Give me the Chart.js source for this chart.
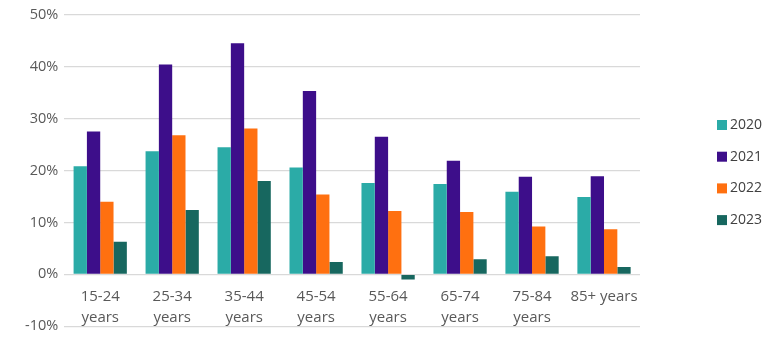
<!DOCTYPE html>
<html>
<head>
<meta charset="utf-8">
<script src="https://cdn.jsdelivr.net/npm/chart.js@4"></script>
<style>
  html, body { margin: 0; padding: 0; background: #fff; }
  #wrap { width: 772px; height: 341px; position: relative; }
</style>
</head>
<body>
<div id="wrap"><canvas id="ageChart"></canvas></div>
<script>
// === DATA ===
const categories = [
  ['15-24', 'years'], ['25-34', 'years'], ['35-44', 'years'], ['45-54', 'years'],
  ['55-64', 'years'], ['65-74', 'years'], ['75-84', 'years'], '85+ years'
];
const seriesNames = ['2020', '2021', '2022', '2023'];
const values2020 = [20.8, 23.7, 24.5, 20.6, 17.6, 17.4, 15.9, 14.9];
const values2021 = [27.5, 40.4, 44.5, 35.3, 26.5, 21.9, 18.8, 18.9];
const values2022 = [14.0, 26.8, 28.1, 15.4, 12.2, 12.0, 9.2, 8.7];
const values2023 = [6.3, 12.4, 18.0, 2.4, -1.0, 2.9, 3.5, 1.4];
const yTicks = [-10, 0, 10, 20, 30, 40, 50];

const colors = ['#2BABA7', '#3D0E8A', '#FF7010', '#17675F'];
const allValues = [values2020, values2021, values2022, values2023];

// simple legend drawn at the right, like the original
const sideLegend = {
  id: 'sideLegend',
  afterDraw(chart) {
    const ctx = chart.ctx;
    ctx.save();
    ctx.font = '14px "Open Sans", sans-serif';
    ctx.textBaseline = 'middle';
    seriesNames.forEach(function(name, i) {
      const y = 125 + i * 31.7;
      ctx.fillStyle = colors[i];
      ctx.fillRect(717, y - 5, 10, 10);
      ctx.fillStyle = '#404040';
      ctx.fillText(name, 730, y);
    });
    ctx.restore();
  }
};

const ctx = document.getElementById('ageChart').getContext('2d');
new Chart(ctx, {
  type: 'bar',
  data: {
    labels: categories,
    datasets: seriesNames.map(function(name, i) {
      return {
        label: name,
        data: allValues[i],
        backgroundColor: colors[i],
        borderWidth: 0,
        categoryPercentage: 0.74,
        barPercentage: 1.0
      };
    })
  },
  options: {
    responsive: true,
    maintainAspectRatio: false,
    animation: false,
    layout: { padding: { left: 10, right: 132, top: 0, bottom: 0 } },
    plugins: {
      legend: { display: false },
      tooltip: { enabled: false }
    },
    scales: {
      x: {
        position: { y: 0 },
        grid: { display: false, drawTicks: false },
        border: { display: false },
        ticks: {
          maxRotation: 0,
          autoSkip: false,
          padding: 12,
          color: '#595959',
          font: { family: 'Open Sans', size: 15, lineHeight: 1.4 }
        }
      },
      y: {
        min: -10,
        max: 50,
        afterBuildTicks: function(axis) {
          axis.ticks = yTicks.map(function(v) { return { value: v }; });
        },
        afterFit: function(axis) {
          // extra gap between the % labels and the plot
          axis.width += 9;
        },
        grid: { color: '#D9D9D9', lineWidth: 1.3, drawTicks: false },
        border: { display: false },
        ticks: {
          padding: 6,
          color: '#595959',
          font: { family: 'Open Sans', size: 14.5 },
          callback: function(value) { return value + '%'; }
        }
      }
    }
  },
  plugins: [sideLegend]
});
</script>
</body>
</html>
